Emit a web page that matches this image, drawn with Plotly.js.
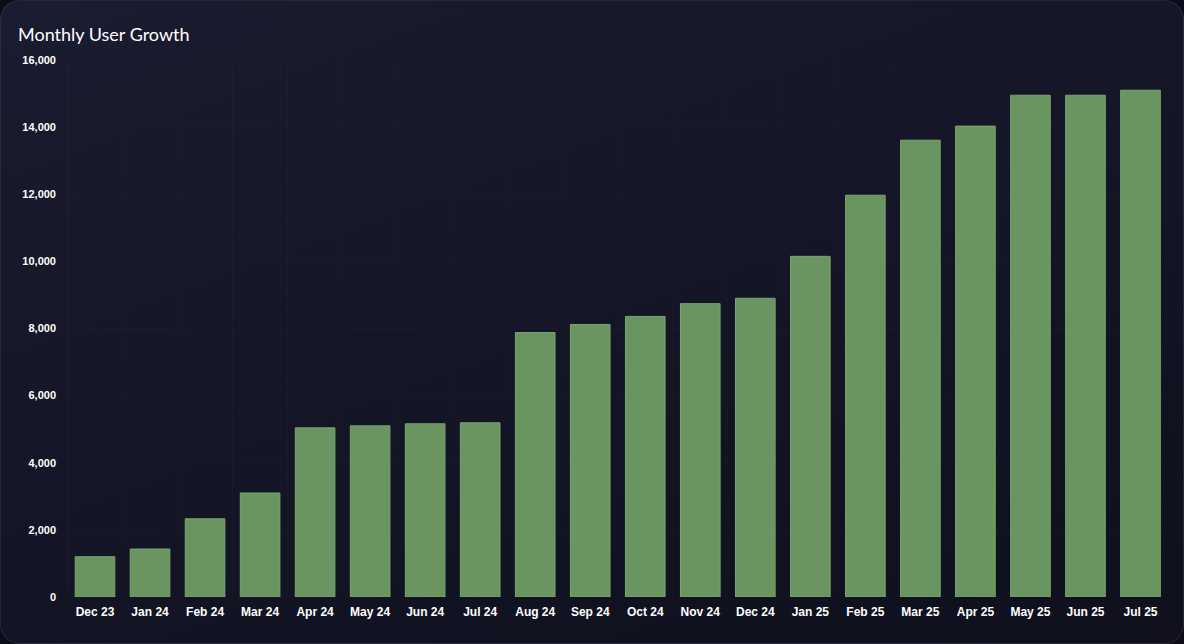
<!DOCTYPE html>
<html>
<head>
<meta charset="utf-8">
<script src="https://cdn.plot.ly/plotly-3.0.1.min.js"></script>
<style>
  html, body { margin: 0; padding: 0; background: #0c0d16; }
  #card {
    position: absolute; left: 0; top: 0; width: 1182px; height: 642px;
    border-radius: 20px; border: 1px solid rgba(255,255,255,0.09);
    background: linear-gradient(160deg, #1a1c2f 0%, #141526 50%, #0f101c 100%);
    overflow: hidden;
  }
  #chart { width: 1182px; height: 642px; }
</style>
</head>
<body>
<div id="card"><div id="chart"></div></div>
<script>
// Monthly user counts
const months = ["Dec 23", "Jan 24", "Feb 24", "Mar 24", "Apr 24", "May 24", "Jun 24", "Jul 24",
  "Aug 24", "Sep 24", "Oct 24", "Nov 24", "Dec 24", "Jan 25", "Feb 25", "Mar 25",
  "Apr 25", "May 25", "Jun 25", "Jul 25"];
const users = [1200, 1430, 2330, 3100, 5040, 5100, 5160, 5190,
  7880, 8120, 8360, 8740, 8900, 10150, 11970, 13610,
  14030, 14950, 14950, 15100];
const yTicks = [0, 2000, 4000, 6000, 8000, 10000, 12000, 14000, 16000];

Plotly.newPlot("chart", [
  {
    type: "bar",
    x: months,
    y: users,
    marker: { color: "#6a9460", line: { color: "#7aa56f", width: 1 } },
    hoverinfo: "x+y"
  }
], {
  width: 1182,
  height: 642,
  margin: { l: 66, r: 15, t: 59, b: 46 },
  bargap: 0.28,
  paper_bgcolor: "rgba(0,0,0,0)",
  plot_bgcolor: "rgba(0,0,0,0)",
  showlegend: false,
  title: {
    text: "Monthly User Growth",
    x: 0, xref: "paper", xanchor: "left",
    y: 0.958, yref: "container",
    font: { family: "Lato, 'Noto Sans', sans-serif", size: 18, color: "#ffffff" },
    pad: { l: -49 }
  },
  xaxis: {
    type: "category",
    tickfont: { family: "'Liberation Sans', Arial, sans-serif", size: 12, color: "#ffffff", weight: "bold" },
    showgrid: false,
    zeroline: false,
    showline: false,
    ticks: "",
    ticklabelstandoff: 6
  },
  yaxis: {
    range: [0, 16000],
    tickvals: yTicks,
    tickformat: ",d",
    tickfont: { family: "'Liberation Sans', Arial, sans-serif", size: 11, color: "#ffffff", weight: "bold" },
    gridcolor: "rgba(255,255,255,0.018)",
    zeroline: false,
    showline: false,
    ticks: "",
    ticklabelstandoff: 10
  },
  shapes: months.map((m, i) => ({
    type: "line", xref: "x", yref: "paper",
    x0: i - 0.5, x1: i - 0.5, y0: 0, y1: 1,
    line: { color: "rgba(255,255,255,0.022)", width: 1 },
    layer: "below"
  }))
}, { displayModeBar: false });
</script>
</body>
</html>
